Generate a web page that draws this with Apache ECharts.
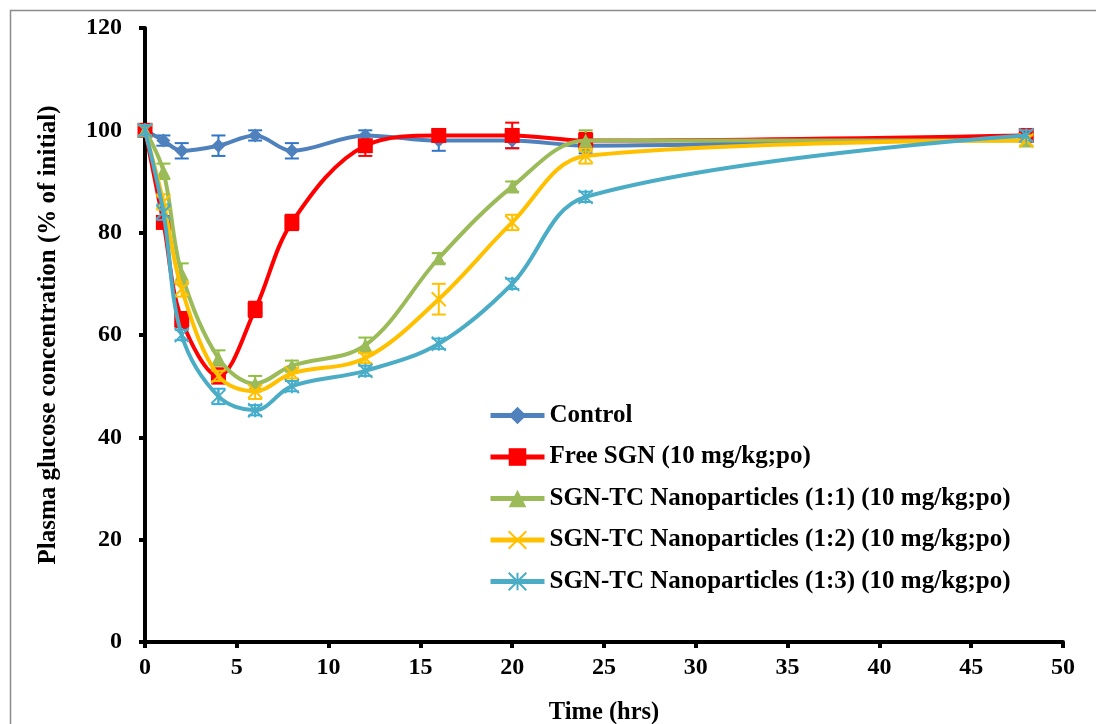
<!DOCTYPE html>
<html><head><meta charset="utf-8">
<script src="https://cdn.jsdelivr.net/npm/echarts@6/dist/echarts.min.js"></script>
<style>html,body{margin:0;padding:0;background:#fff}#c{width:1096px;height:724px}</style>
</head><body><div id="c"></div>
<script>
const times = [0, 1, 2, 4, 6, 8, 12, 16, 20, 24, 48];
const seriesNames = ['Control', 'Free SGN (10 mg/kg;po)', 'SGN-TC Nanoparticles (1:1) (10 mg/kg;po)', 'SGN-TC Nanoparticles (1:2) (10 mg/kg;po)', 'SGN-TC Nanoparticles (1:3) (10 mg/kg;po)'];
const control = [100, 98, 96, 97, 99, 96, 99, 98, 98, 97, 99];
const freeSGN = [100, 82, 63, 52, 65, 82, 97, 99, 99, 98, 99];
const np11 = [100, 92, 72, 55.5, 50.5, 54, 58, 75, 89, 98, 98];
const np12 = [100, 86, 69, 52, 49, 52.5, 55.5, 67, 82, 95, 98];
const np13 = [100, 84, 60, 48, 45.3, 50, 53, 58.3, 70, 87, 99];
const errControl = [1, 1, 1.5, 2, 1, 1.5, 1, 2, 1.5, 1.5, 1];
const errFree = [1, 1, 1.5, 1.5, 1.5, 1.5, 2, 1, 2.5, 1.5, 1];
const err11 = [1, 1.5, 2, 1.5, 1.5, 1, 1.5, 1, 1, 2, 1];
const err12 = [1, 1.5, 1.5, 1, 1.5, 1, 1, 3, 1.5, 1.5, 1];
const err13 = [1, 1.5, 1, 1.5, 1, 1, 1, 1, 1, 1, 1];
const xTicks = {min: 0, max: 50, interval: 5};
const yTicks = {min: 0, max: 120, interval: 20};

const values = [control, freeSGN, np11, np12, np13];
const errs = [errControl, errFree, err11, err12, err13];
const colors = ['#4f81bd', '#ff0000', '#9bbb59', '#ffc000', '#4bacc6'];
const errColors = ['#2f75c8', '#ff0000', '#8fbf40', '#ffc000', '#2fb0e0'];
const symbols = [
  'diamond', 'rect', 'triangle',
  'path://M0,0L10,10M10,0L0,10',
  'path://M0,0L10,10M10,0L0,10M5,0L5,10'
];
const symbolSizes = [14, 15, 14, 14, 14];
const FONT = 'Liberation Serif';

const series = [];
values.forEach((vals, i) => {
  const isPath = symbols[i].startsWith('path');
  series.push({
    name: seriesNames[i],
    type: 'line',
    smooth: 0.35,
    data: times.map((t, k) => [t, vals[k]]),
    symbol: symbols[i],
    symbolSize: symbolSizes[i],
    showAllSymbol: true,
    lineStyle: {color: colors[i], width: 4},
    itemStyle: isPath ? {color: 'none', borderColor: colors[i], borderWidth: 2} : {color: colors[i], borderWidth: 0},
    z: 3 + i
  });
  series.push({
    type: 'custom',
    name: seriesNames[i] + ' err',
    data: times.map((t, k) => [t, vals[k] - errs[i][k], vals[k] + errs[i][k]]),
    encode: {x: 0, y: [1, 2]},
    z: 2 + i,
    silent: true,
    renderItem: function (params, api) {
      const x = api.value(0);
      const lo = api.coord([x, api.value(1)]);
      const hi = api.coord([x, api.value(2)]);
      const w = 7;
      const st = {stroke: errColors[i], lineWidth: 2};
      return {type: 'group', children: [
        {type: 'line', shape: {x1: lo[0], y1: lo[1], x2: hi[0], y2: hi[1]}, style: st},
        {type: 'line', shape: {x1: lo[0] - w, y1: lo[1], x2: lo[0] + w, y2: lo[1]}, style: st},
        {type: 'line', shape: {x1: hi[0] - w, y1: hi[1], x2: hi[0] + w, y2: hi[1]}, style: st}
      ]};
    }
  });
});

const chart = echarts.init(document.getElementById('c'));
chart.setOption({
  backgroundColor: '#fff',
  animation: false,
  textStyle: {fontFamily: FONT},
  graphic: [{type: 'rect', shape: {x: 10.5, y: 10.5, width: 1100, height: 740}, style: {fill: 'none', stroke: '#8c8c8c', lineWidth: 1.5}, silent: true}],
  grid: {left: 145, right: 33, top: 28, bottom: 82, containLabel: false, outerBoundsMode: 'none'},
  legend: {
    data: seriesNames,
    orient: 'vertical',
    left: 483, top: 398,
    itemWidth: 54, itemHeight: 22, itemGap: 16.5,
    lineStyle: {width: 5},
    textStyle: {fontFamily: FONT, fontWeight: 'bold', fontSize: 25, color: '#000'}
  },
  xAxis: {
    type: 'value', min: xTicks.min, max: xTicks.max, interval: xTicks.interval,
    name: 'Time (hrs)', nameLocation: 'middle', nameGap: 58,
    nameTextStyle: {fontFamily: FONT, fontWeight: 'bold', fontSize: 24.5, color: '#000'},
    axisLine: {lineStyle: {color: '#000', width: 4}},
    axisTick: {show: true, length: 6, lineStyle: {color: '#000', width: 4}},
    axisLabel: {fontFamily: FONT, fontWeight: 'bold', fontSize: 24, color: '#000', margin: 14},
    splitLine: {show: false}
  },
  yAxis: {
    type: 'value', min: yTicks.min, max: yTicks.max, interval: yTicks.interval,
    name: 'Plasma glucose concentration (% of initial)', nameLocation: 'middle', nameGap: 84,
    nameTextStyle: {fontFamily: FONT, fontWeight: 'bold', fontSize: 25, color: '#000'},
    axisLine: {show: true, lineStyle: {color: '#000', width: 4}},
    axisTick: {show: true, length: 6, lineStyle: {color: '#000', width: 4}},
    axisLabel: {fontFamily: FONT, fontWeight: 'bold', fontSize: 24, color: '#000', margin: 23},
    splitLine: {show: false}
  },
  series: series
});
</script></body></html>
